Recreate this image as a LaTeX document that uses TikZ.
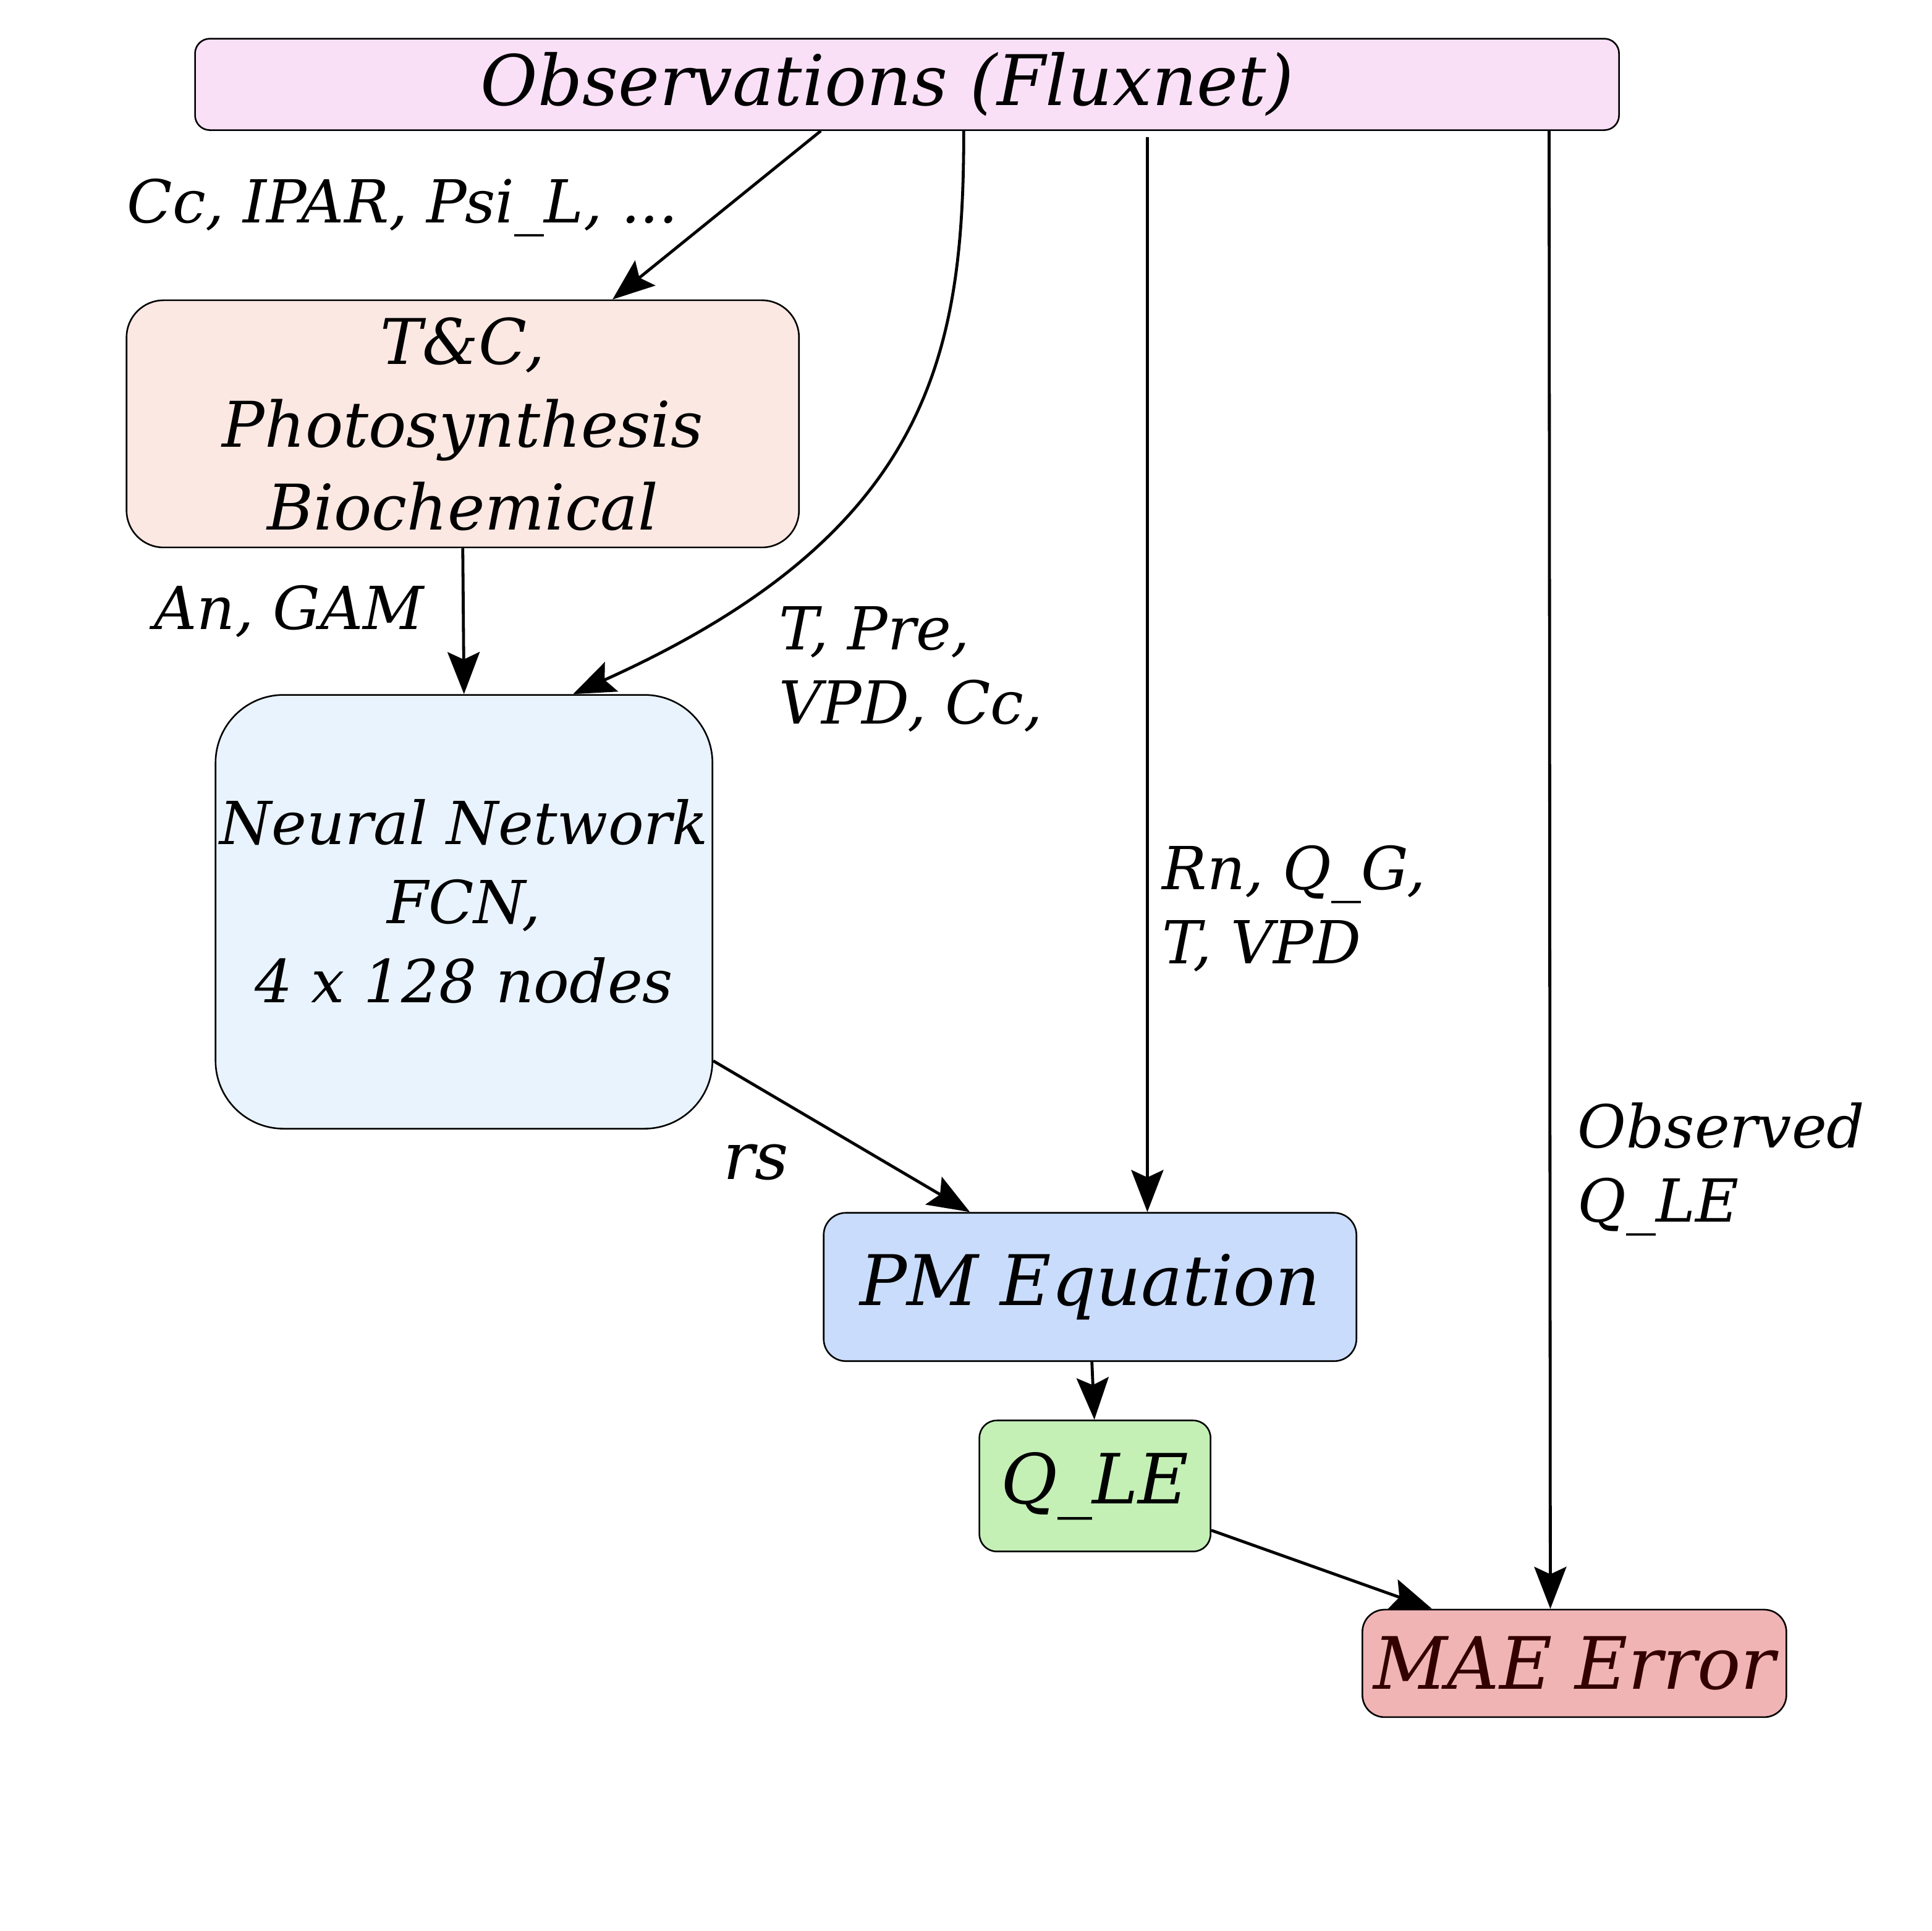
\documentclass[tikz,border=0pt]{standalone}
\usepackage{fontspec}
\setmainfont{DejaVu Serif}
\usetikzlibrary{arrows.meta,calc}
\definecolor{obsfill}{HTML}{F9E0F7}
\definecolor{tcfill}{HTML}{FBE8E2}
\definecolor{nnfill}{HTML}{E8F3FD}
\definecolor{pmfill}{HTML}{C9DCFB}
\definecolor{qlefill}{HTML}{C4F0B6}
\definecolor{maefill}{HTML}{F0B4B4}
\definecolor{maetext}{HTML}{330000}
\begin{document}
\begin{tikzpicture}[x=0.997pt,y=-0.997pt,
  box/.style={draw=black, line width=1.3pt, rounded corners=#1, inner sep=0pt, align=center},
  conn/.style={line width=2.4pt, -{Stealth[length=34pt,width=26pt,inset=6pt]}},
  lbl/.style={font=\fontsize{48}{60}\selectfont\itshape, inner sep=0pt, align=left, anchor=north west}]
\useasboundingbox (0,0) rectangle (1567.2,1567.2);
\node[box=12pt, fill=obsfill, minimum width=1152pt, minimum height=74pt, font=\fontsize{56.5}{66}\selectfont\itshape] (obs) at (736,68.5)
  {Observations (Fluxnet)\hspace*{32pt}};
\node[box=30pt, fill=tcfill, minimum width=544pt, minimum height=200pt, font=\fontsize{51}{67}\selectfont\itshape] (tc) at (375.5,344)
  {T\&C,\\Photosynthesis\\Biochemical};
\node[box=55pt, fill=nnfill, minimum width=402pt, minimum height=351pt, font=\fontsize{48}{64}\selectfont\itshape] (nn) at (376.5,740)
  {Neural Network\\FCN,\\4 x 128 nodes\\[-46pt]};
\node[box=18pt, fill=pmfill, minimum width=431pt, minimum height=120pt, font=\fontsize{56.5}{66}\selectfont\itshape] (pm) at (884.5,1044.5)
  {PM Equation};
\node[box=14pt, fill=qlefill, minimum width=187pt, minimum height=106pt, font=\fontsize{56}{66}\selectfont\itshape] (qle) at (888.5,1206)
  {Q\_LE};
\node[box=18pt, fill=maefill, minimum width=343pt, minimum height=87pt, text=maetext, font=\fontsize{58.5}{66}\selectfont\itshape] (mae) at (1277.5,1350)
  {MAE Error};
% labels
\node[lbl] (l1) at (103,145) {Cc, IPAR, Psi\_L, ...};
\node[lbl] (l2) at (125,475) {An, GAM};
\node[lbl] (l3) at (632,492) {T, Pre,\\VPD, Cc,};
\node[lbl] (l4) at (943,686) {Rn, Q\_G,\\T, VPD};
\node[lbl] (l5) at (1280,895) {Observed\\Q\_LE};
\node[font=\fontsize{53}{60}\selectfont\itshape, inner sep=0pt, anchor=base west] (l6) at (587,957) {rs};
% connectors
\draw[conn] ($(obs.south)+(-70,0)$) -- ($(tc.north)+(121.5,0)$);
\draw[conn] ($(obs.south)+(46,0)$) .. controls ($(obs.south)+(46,181)$) and ($(nn.north)+(378.5,-130.5)$) .. ($(nn.north)+(88.5,0)$);
\draw[conn] ($(obs.south)+(195,5)$) -- ($(pm.north)+(46.5,0)$);
\draw[conn] ($(obs.south)+(521,0)$) -- ($(mae.north)+(-19.5,0)$);
\draw[conn] (tc.south) -- ($(nn.north)+(0,0)$);
\draw[conn] ($(nn.east)+(0,121)$) -- ($(pm.north)+(-97.5,0)$);
\draw[conn] ($(pm.south)+(1.5,0)$) -- ($(qle.north)+(-0.5,0)$);
\draw[conn] ($(qle.east)+(0,36)$) -- ($(mae.north)+(-115.5,0)$);
\end{tikzpicture}
\end{document}
